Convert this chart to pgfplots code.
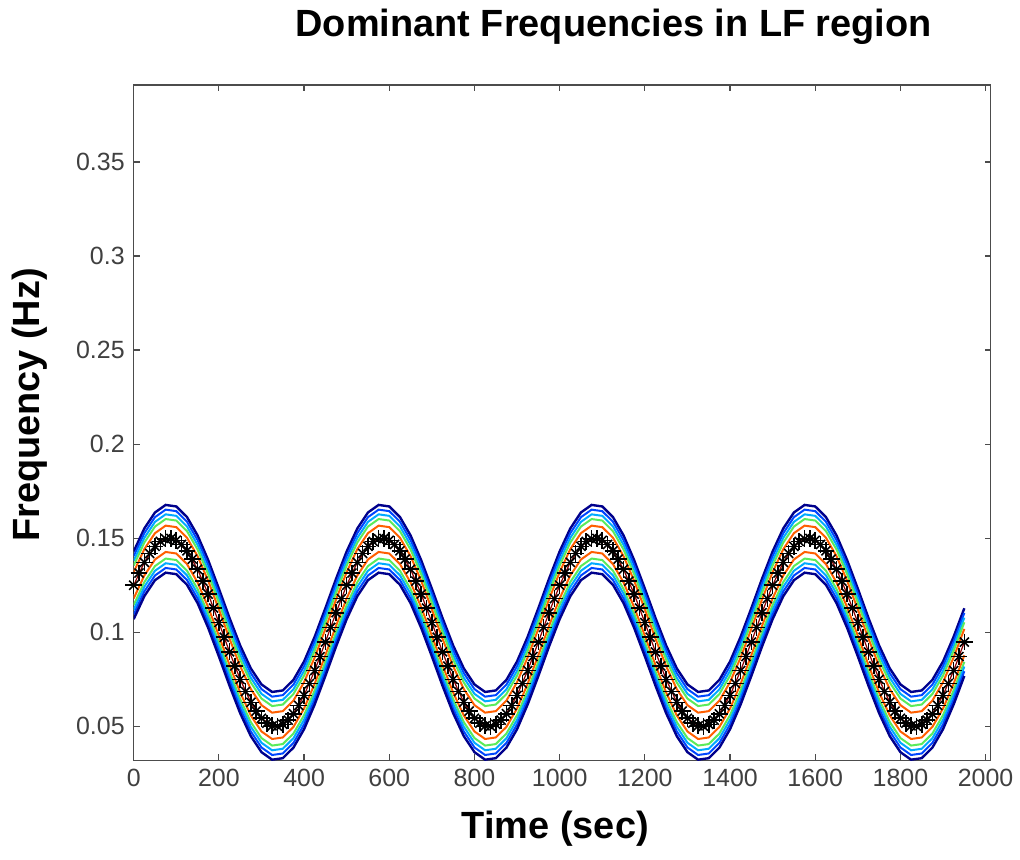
\documentclass[border=0pt]{standalone}
\usepackage{pgfplots}
\pgfplotsset{compat=1.18}
\usepackage{pgfplotstable}
\usepackage{fontspec}
\setmainfont{Liberation Sans}

\definecolor{jnavy}{RGB}{0,0,140}
\definecolor{jblue}{RGB}{0,70,255}
\definecolor{jcyan}{RGB}{0,170,255}
\definecolor{jgreen}{RGB}{90,235,90}
\definecolor{jorange}{RGB}{255,95,0}
\definecolor{jred}{RGB}{140,0,0}

% t, centre line, five lines above (u5 outermost), five below (l5 outermost)
\pgfplotstableread{
t    mid    u5     u4     u3     u2     u1     l1     l2     l3     l4     l5
0    0.1250 0.1430 0.1405 0.1380 0.1355 0.1320 0.1180 0.1145 0.1120 0.1095 0.1070
25   0.1372 0.1552 0.1527 0.1502 0.1477 0.1442 0.1302 0.1267 0.1242 0.1217 0.1192
50   0.1457 0.1637 0.1612 0.1587 0.1562 0.1527 0.1387 0.1352 0.1327 0.1302 0.1277
75   0.1497 0.1677 0.1652 0.1627 0.1602 0.1567 0.1427 0.1392 0.1367 0.1342 0.1317
100  0.1489 0.1669 0.1644 0.1619 0.1594 0.1559 0.1419 0.1384 0.1359 0.1334 0.1309
125  0.1433 0.1613 0.1588 0.1563 0.1538 0.1503 0.1363 0.1328 0.1303 0.1278 0.1253
150  0.1335 0.1515 0.1490 0.1465 0.1440 0.1405 0.1265 0.1230 0.1205 0.1180 0.1155
175  0.1203 0.1383 0.1358 0.1333 0.1308 0.1273 0.1133 0.1098 0.1073 0.1048 0.1023
200  0.1052 0.1232 0.1207 0.1182 0.1157 0.1122 0.0982 0.0947 0.0922 0.0897 0.0872
225  0.0896 0.1076 0.1051 0.1026 0.1001 0.0966 0.0826 0.0791 0.0766 0.0741 0.0716
250  0.0750 0.0930 0.0905 0.0880 0.0855 0.0820 0.0680 0.0645 0.0620 0.0595 0.0570
275  0.0628 0.0808 0.0783 0.0758 0.0733 0.0698 0.0558 0.0523 0.0498 0.0473 0.0448
300  0.0543 0.0723 0.0698 0.0673 0.0648 0.0613 0.0473 0.0438 0.0413 0.0388 0.0363
325  0.0503 0.0683 0.0658 0.0633 0.0608 0.0573 0.0433 0.0398 0.0373 0.0348 0.0323
350  0.0511 0.0691 0.0666 0.0641 0.0616 0.0581 0.0441 0.0406 0.0381 0.0356 0.0331
375  0.0567 0.0747 0.0722 0.0697 0.0672 0.0637 0.0497 0.0462 0.0437 0.0412 0.0387
400  0.0665 0.0845 0.0820 0.0795 0.0770 0.0735 0.0595 0.0560 0.0535 0.0510 0.0485
425  0.0797 0.0977 0.0952 0.0927 0.0902 0.0867 0.0727 0.0692 0.0667 0.0642 0.0617
450  0.0948 0.1128 0.1103 0.1078 0.1053 0.1018 0.0878 0.0843 0.0818 0.0793 0.0768
475  0.1104 0.1284 0.1259 0.1234 0.1209 0.1174 0.1034 0.0999 0.0974 0.0949 0.0924
500  0.1250 0.1430 0.1405 0.1380 0.1355 0.1320 0.1180 0.1145 0.1120 0.1095 0.1070
525  0.1372 0.1552 0.1527 0.1502 0.1477 0.1442 0.1302 0.1267 0.1242 0.1217 0.1192
550  0.1457 0.1637 0.1612 0.1587 0.1562 0.1527 0.1387 0.1352 0.1327 0.1302 0.1277
575  0.1497 0.1677 0.1652 0.1627 0.1602 0.1567 0.1427 0.1392 0.1367 0.1342 0.1317
600  0.1489 0.1669 0.1644 0.1619 0.1594 0.1559 0.1419 0.1384 0.1359 0.1334 0.1309
625  0.1433 0.1613 0.1588 0.1563 0.1538 0.1503 0.1363 0.1328 0.1303 0.1278 0.1253
650  0.1335 0.1515 0.1490 0.1465 0.1440 0.1405 0.1265 0.1230 0.1205 0.1180 0.1155
675  0.1203 0.1383 0.1358 0.1333 0.1308 0.1273 0.1133 0.1098 0.1073 0.1048 0.1023
700  0.1052 0.1232 0.1207 0.1182 0.1157 0.1122 0.0982 0.0947 0.0922 0.0897 0.0872
725  0.0896 0.1076 0.1051 0.1026 0.1001 0.0966 0.0826 0.0791 0.0766 0.0741 0.0716
750  0.0750 0.0930 0.0905 0.0880 0.0855 0.0820 0.0680 0.0645 0.0620 0.0595 0.0570
775  0.0628 0.0808 0.0783 0.0758 0.0733 0.0698 0.0558 0.0523 0.0498 0.0473 0.0448
800  0.0543 0.0723 0.0698 0.0673 0.0648 0.0613 0.0473 0.0438 0.0413 0.0388 0.0363
825  0.0503 0.0683 0.0658 0.0633 0.0608 0.0573 0.0433 0.0398 0.0373 0.0348 0.0323
850  0.0511 0.0691 0.0666 0.0641 0.0616 0.0581 0.0441 0.0406 0.0381 0.0356 0.0331
875  0.0567 0.0747 0.0722 0.0697 0.0672 0.0637 0.0497 0.0462 0.0437 0.0412 0.0387
900  0.0665 0.0845 0.0820 0.0795 0.0770 0.0735 0.0595 0.0560 0.0535 0.0510 0.0485
925  0.0797 0.0977 0.0952 0.0927 0.0902 0.0867 0.0727 0.0692 0.0667 0.0642 0.0617
950  0.0948 0.1128 0.1103 0.1078 0.1053 0.1018 0.0878 0.0843 0.0818 0.0793 0.0768
975  0.1104 0.1284 0.1259 0.1234 0.1209 0.1174 0.1034 0.0999 0.0974 0.0949 0.0924
1000 0.1250 0.1430 0.1405 0.1380 0.1355 0.1320 0.1180 0.1145 0.1120 0.1095 0.1070
1025 0.1372 0.1552 0.1527 0.1502 0.1477 0.1442 0.1302 0.1267 0.1242 0.1217 0.1192
1050 0.1457 0.1637 0.1612 0.1587 0.1562 0.1527 0.1387 0.1352 0.1327 0.1302 0.1277
1075 0.1497 0.1677 0.1652 0.1627 0.1602 0.1567 0.1427 0.1392 0.1367 0.1342 0.1317
1100 0.1489 0.1669 0.1644 0.1619 0.1594 0.1559 0.1419 0.1384 0.1359 0.1334 0.1309
1125 0.1433 0.1613 0.1588 0.1563 0.1538 0.1503 0.1363 0.1328 0.1303 0.1278 0.1253
1150 0.1335 0.1515 0.1490 0.1465 0.1440 0.1405 0.1265 0.1230 0.1205 0.1180 0.1155
1175 0.1203 0.1383 0.1358 0.1333 0.1308 0.1273 0.1133 0.1098 0.1073 0.1048 0.1023
1200 0.1052 0.1232 0.1207 0.1182 0.1157 0.1122 0.0982 0.0947 0.0922 0.0897 0.0872
1225 0.0896 0.1076 0.1051 0.1026 0.1001 0.0966 0.0826 0.0791 0.0766 0.0741 0.0716
1250 0.0750 0.0930 0.0905 0.0880 0.0855 0.0820 0.0680 0.0645 0.0620 0.0595 0.0570
1275 0.0628 0.0808 0.0783 0.0758 0.0733 0.0698 0.0558 0.0523 0.0498 0.0473 0.0448
1300 0.0543 0.0723 0.0698 0.0673 0.0648 0.0613 0.0473 0.0438 0.0413 0.0388 0.0363
1325 0.0503 0.0683 0.0658 0.0633 0.0608 0.0573 0.0433 0.0398 0.0373 0.0348 0.0323
1350 0.0511 0.0691 0.0666 0.0641 0.0616 0.0581 0.0441 0.0406 0.0381 0.0356 0.0331
1375 0.0567 0.0747 0.0722 0.0697 0.0672 0.0637 0.0497 0.0462 0.0437 0.0412 0.0387
1400 0.0665 0.0845 0.0820 0.0795 0.0770 0.0735 0.0595 0.0560 0.0535 0.0510 0.0485
1425 0.0797 0.0977 0.0952 0.0927 0.0902 0.0867 0.0727 0.0692 0.0667 0.0642 0.0617
1450 0.0948 0.1128 0.1103 0.1078 0.1053 0.1018 0.0878 0.0843 0.0818 0.0793 0.0768
1475 0.1104 0.1284 0.1259 0.1234 0.1209 0.1174 0.1034 0.0999 0.0974 0.0949 0.0924
1500 0.1250 0.1430 0.1405 0.1380 0.1355 0.1320 0.1180 0.1145 0.1120 0.1095 0.1070
1525 0.1372 0.1552 0.1527 0.1502 0.1477 0.1442 0.1302 0.1267 0.1242 0.1217 0.1192
1550 0.1457 0.1637 0.1612 0.1587 0.1562 0.1527 0.1387 0.1352 0.1327 0.1302 0.1277
1575 0.1497 0.1677 0.1652 0.1627 0.1602 0.1567 0.1427 0.1392 0.1367 0.1342 0.1317
1600 0.1489 0.1669 0.1644 0.1619 0.1594 0.1559 0.1419 0.1384 0.1359 0.1334 0.1309
1625 0.1433 0.1613 0.1588 0.1563 0.1538 0.1503 0.1363 0.1328 0.1303 0.1278 0.1253
1650 0.1335 0.1515 0.1490 0.1465 0.1440 0.1405 0.1265 0.1230 0.1205 0.1180 0.1155
1675 0.1203 0.1383 0.1358 0.1333 0.1308 0.1273 0.1133 0.1098 0.1073 0.1048 0.1023
1700 0.1052 0.1232 0.1207 0.1182 0.1157 0.1122 0.0982 0.0947 0.0922 0.0897 0.0872
1725 0.0896 0.1076 0.1051 0.1026 0.1001 0.0966 0.0826 0.0791 0.0766 0.0741 0.0716
1750 0.0750 0.0930 0.0905 0.0880 0.0855 0.0820 0.0680 0.0645 0.0620 0.0595 0.0570
1775 0.0628 0.0808 0.0783 0.0758 0.0733 0.0698 0.0558 0.0523 0.0498 0.0473 0.0448
1800 0.0543 0.0723 0.0698 0.0673 0.0648 0.0613 0.0473 0.0438 0.0413 0.0388 0.0363
1825 0.0503 0.0683 0.0658 0.0633 0.0608 0.0573 0.0433 0.0398 0.0373 0.0348 0.0323
1850 0.0511 0.0691 0.0666 0.0641 0.0616 0.0581 0.0441 0.0406 0.0381 0.0356 0.0331
1875 0.0567 0.0747 0.0722 0.0697 0.0672 0.0637 0.0497 0.0462 0.0437 0.0412 0.0387
1900 0.0665 0.0845 0.0820 0.0795 0.0770 0.0735 0.0595 0.0560 0.0535 0.0510 0.0485
1925 0.0797 0.0977 0.0952 0.0927 0.0902 0.0867 0.0727 0.0692 0.0667 0.0642 0.0617
1950 0.0948 0.1128 0.1103 0.1078 0.1053 0.1018 0.0878 0.0843 0.0818 0.0793 0.0768
}\lines

% dominant frequency estimates (black stars)
\pgfplotstableread{
t y
0 0.1250
12.5 0.1315
25 0.1372
37.5 0.1419
50 0.1457
62.5 0.1483
75 0.1497
87.5 0.1499
100 0.1489
112.5 0.1467
125 0.1433
137.5 0.1389
150 0.1335
162.5 0.1272
175 0.1203
187.5 0.1129
200 0.1052
212.5 0.0974
225 0.0896
237.5 0.0821
250 0.0750
262.5 0.0685
275 0.0628
287.5 0.0581
300 0.0543
312.5 0.0517
325 0.0503
337.5 0.0501
350 0.0511
362.5 0.0533
375 0.0567
387.5 0.0611
400 0.0665
412.5 0.0728
425 0.0797
437.5 0.0871
450 0.0948
462.5 0.1026
475 0.1104
487.5 0.1179
500 0.1250
512.5 0.1315
525 0.1372
537.5 0.1419
550 0.1457
562.5 0.1483
575 0.1497
587.5 0.1499
600 0.1489
612.5 0.1467
625 0.1433
637.5 0.1389
650 0.1335
662.5 0.1272
675 0.1203
687.5 0.1129
700 0.1052
712.5 0.0974
725 0.0896
737.5 0.0821
750 0.0750
762.5 0.0685
775 0.0628
787.5 0.0581
800 0.0543
812.5 0.0517
825 0.0503
837.5 0.0501
850 0.0511
862.5 0.0533
875 0.0567
887.5 0.0611
900 0.0665
912.5 0.0728
925 0.0797
937.5 0.0871
950 0.0948
962.5 0.1026
975 0.1104
987.5 0.1179
1000 0.1250
1012.5 0.1315
1025 0.1372
1037.5 0.1419
1050 0.1457
1062.5 0.1483
1075 0.1497
1087.5 0.1499
1100 0.1489
1112.5 0.1467
1125 0.1433
1137.5 0.1389
1150 0.1335
1162.5 0.1272
1175 0.1203
1187.5 0.1129
1200 0.1052
1212.5 0.0974
1225 0.0896
1237.5 0.0821
1250 0.0750
1262.5 0.0685
1275 0.0628
1287.5 0.0581
1300 0.0543
1312.5 0.0517
1325 0.0503
1337.5 0.0501
1350 0.0511
1362.5 0.0533
1375 0.0567
1387.5 0.0611
1400 0.0665
1412.5 0.0728
1425 0.0797
1437.5 0.0871
1450 0.0948
1462.5 0.1026
1475 0.1104
1487.5 0.1179
1500 0.1250
1512.5 0.1315
1525 0.1372
1537.5 0.1419
1550 0.1457
1562.5 0.1483
1575 0.1497
1587.5 0.1499
1600 0.1489
1612.5 0.1467
1625 0.1433
1637.5 0.1389
1650 0.1335
1662.5 0.1272
1675 0.1203
1687.5 0.1129
1700 0.1052
1712.5 0.0974
1725 0.0896
1737.5 0.0821
1750 0.0750
1762.5 0.0685
1775 0.0628
1787.5 0.0581
1800 0.0543
1812.5 0.0517
1825 0.0503
1837.5 0.0501
1850 0.0511
1862.5 0.0533
1875 0.0567
1887.5 0.0611
1900 0.0665
1912.5 0.0728
1925 0.0797
1937.5 0.0871
1950 0.0948
}\stars

\begin{document}
\begin{tikzpicture}
\begin{axis}[
    name=ax,
    scale only axis,
    width=429.5pt, height=338.5pt,
    xmin=0, xmax=2012,
    ymin=0.032, ymax=0.391,
    xtick={0,200,...,2000},
    ytick={0.05,0.1,0.15,0.2,0.25,0.3,0.35},
    scaled y ticks=false,
    yticklabel style={/pgf/number format/fixed, /pgf/number format/precision=2, xshift=-1pt},
    xticklabel style={/pgf/number format/1000 sep={}, yshift=-1pt},
    /pgf/number format/assume math mode=true,
    tick label style={font=\fontsize{12.5}{14}\selectfont, text=black!75},
    tick align=inside,
    major tick length=3pt,
    tick style={black!70, line width=0.6pt},
    axis line style={black!70, line width=0.75pt},
    every axis title shift=0pt,
    title={Dominant Frequencies in LF region},
    title style={at={(axis description cs:0.56,1.086)}, anchor=center, inner sep=0pt, font=\bfseries\fontsize{19}{22}\selectfont},
    xlabel={Time (sec)},
    xlabel style={at={(axis description cs:0.492,-0.102)}, anchor=center, inner sep=0pt, font=\bfseries\fontsize{19}{22}\selectfont},
    ylabel={Frequency (Hz)},
    ylabel style={at={(axis description cs:-0.121,0.526)}, anchor=center, inner sep=0pt, font=\bfseries\fontsize{19}{22}\selectfont},
    every axis plot/.append style={line width=1pt},
]
\addplot[jnavy, line width=1.2pt] table[x=t, y=u5] {\lines};
\addplot[jblue] table[x=t, y=u4] {\lines};
\addplot[jcyan] table[x=t, y=u3] {\lines};
\addplot[jgreen] table[x=t, y=u2] {\lines};
\addplot[jorange] table[x=t, y=u1] {\lines};
\addplot[jorange] table[x=t, y=l1] {\lines};
\addplot[jgreen] table[x=t, y=l2] {\lines};
\addplot[jcyan] table[x=t, y=l3] {\lines};
\addplot[jblue] table[x=t, y=l4] {\lines};
\addplot[jnavy, line width=1.2pt] table[x=t, y=l5] {\lines};
\addplot[jred, line width=0.6pt] table[x=t, y=mid] {\lines};
% Matlab-style eight-armed star: a plus and a cross on the same points
\addplot[only marks, mark=+, mark size=4.2pt, black, line width=0.8pt] table[x=t, y=y] {\stars};
\addplot[only marks, mark=x, mark size=3.2pt, black, line width=0.8pt] table[x=t, y=y] {\stars};
\end{axis}
% fix the page to the reference's frame (1px = 0.5pt)
\path (ax.south west) ++(-67pt,-49.5pt) rectangle ++(510pt,430.5pt);
\end{tikzpicture}
\end{document}
